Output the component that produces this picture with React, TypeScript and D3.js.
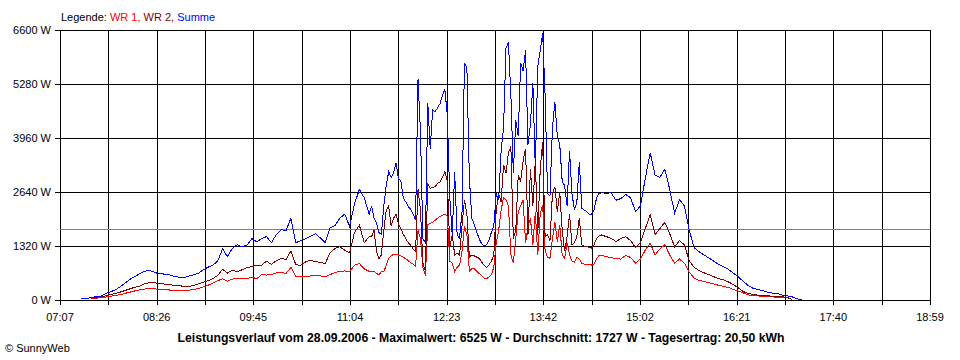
import React from 'react';
import * as d3 from 'd3';

// Sampling times (clock time)
const times: string[] = [
  "07:24","07:28","07:32","07:36","07:40","07:44","07:48","07:52","07:56","08:00",
  "08:04","08:08","08:12","08:16","08:20","08:24","08:28","08:32","08:36","08:40",
  "08:44","08:48","08:52","08:56","09:00","09:04","09:08","09:12","09:16","09:20",
  "09:24","09:28","09:32","09:36","09:40","09:44","09:48","09:52","09:56","10:00",
  "10:04","10:08","10:12","10:16","10:20","10:24","10:28","10:32","10:36","10:40",
  "10:44","10:48","10:52","10:56","11:00","11:04","11:08","11:12","11:16","11:20",
  "11:22","11:24","11:26","11:28","11:30","11:32","11:34","11:36","11:38","11:40",
  "11:42","11:44","11:46","11:48","11:50","11:52","11:54","11:56","11:58","12:00",
  "12:02","12:04","12:06","12:08","12:10","12:12","12:14","12:16","12:18","12:20",
  "12:22","12:24","12:26","12:28","12:30","12:32","12:34","12:36","12:38","12:40",
  "12:42","12:44","12:46","12:48","12:50","12:52","12:54","12:56","12:58","13:00",
  "13:02","13:04","13:06","13:08","13:10","13:12","13:14","13:16","13:18","13:20",
  "13:22","13:24","13:26","13:28","13:30","13:32","13:34","13:36","13:38","13:40",
  "13:42","13:44","13:46","13:48","13:50","13:52","13:54","13:56","13:58","14:00",
  "14:02","14:04","14:06","14:08","14:10","14:12","14:14","14:16","14:18","14:20",
  "14:22","14:24","14:26","14:28","14:30",
  "14:34","14:38","14:42","14:46","14:50","14:54","14:58","15:02","15:06","15:10",
  "15:14","15:18","15:22","15:26","15:30","15:34","15:38","15:42","15:46","15:50",
  "15:54","15:58","16:02","16:06","16:10","16:14","16:18","16:22","16:26","16:30",
  "16:34","16:38","16:42","16:46","16:50","16:54","16:58","17:02","17:06","17:10",
  "17:14"
];

// WR 1 (W)
const wr1: (number | null)[] = [
  null,null,30,40,55,70,90,110,130,160,
  190,220,245,265,285,275,260,255,245,240,
  235,230,240,250,280,320,360,410,470,520,
  460,510,530,520,520,560,520,620,610,620,
  660,670,650,800,580,570,570,590,610,590,
  570,620,670,700,710,690,850,890,760,700,
  700,700,650,610,690,690,850,1020,1080,1115,
  1110,1100,1080,1040,1010,960,910,880,820,1700,
  1500,800,600,1840,1870,1900,1950,2000,2040,2070,
  2100,2050,950,900,700,800,850,1200,1800,1600,
  700,760,770,700,650,600,540,520,560,620,
  800,1400,1700,2200,2500,2450,2300,1100,900,1500,
  2160,2300,2450,1400,1800,2000,1350,2160,1100,2100,
  2320,1200,1050,1020,1500,1915,1425,1835,1100,1020,
  1400,1100,950,930,1050,1000,900,880,870,860,
  855,880,1000,1080,1100,
  1060,1040,1010,1000,1090,1040,900,1000,1220,1390,
  1100,1250,1350,1100,900,1000,900,680,540,480,
  450,420,390,360,335,305,260,220,175,125,
  110,100,90,80,75,70,65,55,15,null,
  null
];

// WR 2 (W)
const wr2: (number | null)[] = [
  null,null,50,65,80,100,130,160,190,230,
  270,310,340,390,425,420,410,390,370,365,
  360,330,330,350,390,430,470,520,600,750,
  660,730,690,740,790,815,850,850,950,870,
  960,1020,990,1200,860,850,930,970,940,920,
  890,1150,1260,1300,1220,1150,1650,1830,1400,1550,
  1550,1700,1200,1000,1100,1700,2200,2300,1800,2000,
  2100,1850,1750,1600,1500,1400,1340,1250,1180,2700,
  2200,900,700,2850,2730,2750,2770,2850,2890,3000,
  3135,2900,1300,1600,1100,1150,1100,1800,2450,2100,
  1050,1100,1080,1050,1020,930,850,800,850,950,
  1100,2200,2600,2400,3300,3100,3600,3750,1500,1700,
  3050,2900,3400,3700,1600,3200,2300,3400,1600,3200,
  3870,1550,1600,1450,2600,2770,2160,2650,1700,1200,
  1550,2100,1350,1400,1550,2000,1345,1320,1300,1290,
  1265,1350,1500,1560,1590,
  1550,1510,1430,1500,1550,1450,1280,1400,1750,2080,
  1600,1750,1900,1620,1300,1450,1350,950,800,720,
  665,620,570,520,490,440,380,300,210,160,
  135,120,110,100,95,90,80,60,20,null,
  null
];

// Summe (W)
const summe: (number | null)[] = [
  30,30,60,80,90,150,200,240,320,410,
  500,570,640,700,730,680,640,635,620,585,
  560,545,580,610,650,730,800,850,950,1250,
  1060,1260,1350,1300,1340,1500,1420,1500,1550,1400,
  1600,1720,1700,2000,1400,1450,1500,1560,1620,1520,
  1400,1760,1820,2000,2100,1800,2350,2700,2500,2100,
  2300,2000,1875,1650,1600,2300,2800,3135,3000,3100,
  3350,2975,2900,2485,2400,2280,2220,2100,1950,5400,
  4100,1500,1400,4810,3700,4650,4600,4700,4800,5000,
  5150,4500,2500,1590,3135,1600,1510,2160,5800,5665,
  3000,2000,1850,1670,1500,1380,1320,1350,1450,1650,
  1800,2600,2450,3650,4200,6150,6300,5000,3100,4400,
  4000,5800,5600,6100,3800,4300,5300,3200,5700,6100,
  6525,5000,2600,2550,4200,4850,4000,3800,2900,2800,
  2300,3650,2600,2200,2400,3380,2240,2200,2160,2100,
  2100,2200,2480,2600,2620,
  2610,2620,2440,2480,2580,2500,2160,2300,2975,3600,
  3055,3000,3200,2700,2120,2450,2300,1700,1280,1180,
  1100,1030,950,870,815,750,660,570,460,360,
  290,255,230,190,170,160,120,100,80,30,
  10
];

const xTickLabels = ["07:07","08:26","09:45","11:04","12:23","13:42","15:02","16:21","17:40","18:59"];
const yTicks = [0, 1320, 2640, 3960, 5280, 6600];
const yMax = 6600;
const average = 1727;
const legendItems = [
  { label: "WR 1,", color: "#ff0000" },
  { label: "WR 2,", color: "#800000" },
  { label: "Summe", color: "#0000ff" },
];
const title = "Leistungsverlauf vom 28.09.2006 - Maximalwert: 6525 W - Durchschnitt: 1727 W - Tagesertrag: 20,50 kWh";
const copyright = "\u00a9 SunnyWeb";

const toMin = (s: string) => {
  const [h, m] = s.split(":").map(Number);
  return h * 60 + m;
};

const FONT = "'Liberation Sans', Arial, sans-serif";

export default function App() {
  const W = 960, H = 360;
  const left = 60, right = 930, top = 30, bottom = 300;

  const x = d3.scaleLinear()
    .domain([toMin(xTickLabels[0]), toMin(xTickLabels[xTickLabels.length - 1])])
    .range([left, right]);
  const y = d3.scaleLinear().domain([0, yMax]).range([bottom, top]);

  const [d0, d1] = x.domain();
  const gridX = d3.range(19).map(i => d0 + (i * (d1 - d0)) / 18);
  const snap = (v: number) => Math.round(v) + 0.5;

  const tmins = times.map(toMin);
  const mk = (vals: (number | null)[]) =>
    d3.line<[number, number | null]>()
      .defined(d => d[1] != null)
      .x(d => x(d[0]))
      .y(d => y(d[1] as number))(tmins.map((t, i) => [t, vals[i]] as [number, number | null])) || "";

  const series = [
    { vals: wr1, color: "#ff0000" },
    { vals: wr2, color: "#800000" },
    { vals: summe, color: "#0000ff" },
  ];

  return (
    <svg width={W} height={H} style={{ position: "absolute", left: 0, top: 0, background: "#fff" }}
      fontFamily={FONT}>
      <rect x={0} y={0} width={W} height={H} fill="#fff" />
      {/* legend */}
      <text x={61} y={20.5} fontSize={11} fill="#000">
        Legende:
        {legendItems.map((it, i) => (
          <tspan key={i} fill={it.color}>{" " + it.label}</tspan>
        ))}
      </text>

      {/* grid */}
      <g shapeRendering="crispEdges" stroke="#000" strokeWidth={1}>
        {yTicks.map(v => (
          <line key={"h" + v} x1={left - 5} x2={right + 1} y1={snap(y(v))} y2={snap(y(v))} />
        ))}
        {gridX.map((t, i) => (
          <line key={"v" + i} x1={snap(x(t))} x2={snap(x(t))} y1={top} y2={bottom + 5} />
        ))}
      </g>

      {/* average line */}
      <line x1={left} x2={right} y1={snap(y(average))} y2={snap(y(average))}
        stroke="#808080" strokeWidth={1} shapeRendering="crispEdges" />

      {/* y labels */}
      {yTicks.map(v => (
        <text key={"yl" + v} x={51} y={Math.round(y(v)) + 4} fontSize={11} textAnchor="end" fill="#000">
          {v + " W"}
        </text>
      ))}

      {/* x labels */}
      {xTickLabels.map((lab, i) => (
        <text key={"xl" + i} x={x(gridX[i * 2])} y={321} fontSize={11} textAnchor="middle" fill="#000">
          {lab}
        </text>
      ))}

      {/* series */}
      {series.map((s, i) => (
        <path key={"s" + i} d={mk(s.vals)} fill="none" stroke={s.color} strokeWidth={1}
          shapeRendering="crispEdges" strokeLinejoin="miter" />
      ))}

      {/* title */}
      <text x={481} y={341.5} fontSize={12} fontWeight="bold" textAnchor="middle" fill="#000"
        textLength={607} lengthAdjust="spacingAndGlyphs">
        {title}
      </text>
      <text x={5} y={351.5} fontSize={11} fill="#000">{copyright}</text>
    </svg>
  );
}
